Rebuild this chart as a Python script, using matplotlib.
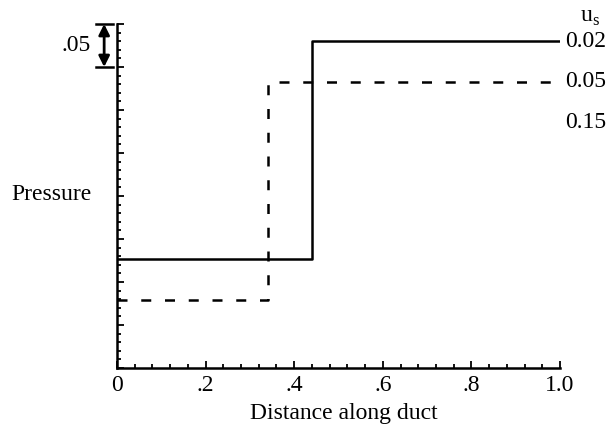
import matplotlib
matplotlib.use("Agg")
import matplotlib.pyplot as plt
import matplotlib.transforms as mtransforms
from matplotlib.ticker import MultipleLocator, FixedFormatter, FixedLocator

plt.rcParams['font.family'] = ['Liberation Serif', 'DejaVu Serif']

# step profiles
x_solid = [0.0, 0.44, 1.0]
p_solid = [0.127, 0.380, 0.380]
x_dash = [0.0, 0.34, 1.0]
p_dash = [0.0785, 0.333, 0.333]

us_labels = ["0.02", "0.05", "0.15"]
us_label_y = [0.380, 0.333, 0.286]

xticks = [0.0, 0.2, 0.4, 0.6, 0.8, 1.0]
xtick_labels = ["0", ".2", ".4", ".6", ".8", "1.0"]

fig = plt.figure(figsize=(6.11, 4.28), dpi=100)
ax = fig.add_axes([117 / 611, 1 - 368 / 428, 443 / 611, 344 / 428])

ax.plot(x_solid, p_solid, drawstyle='steps-post', color='black', lw=1.8)
ax.plot(x_dash, p_dash, drawstyle='steps-post', color='black', lw=1.8,
        dashes=(4.0, 5.5))

ax.set_xlim(0, 1.0)
ax.set_ylim(0, 0.4)

for s in ['top', 'right']:
    ax.spines[s].set_visible(False)
for s in ['left', 'bottom']:
    ax.spines[s].set_linewidth(1.8)

ax.xaxis.set_major_locator(FixedLocator(xticks))
ax.xaxis.set_major_formatter(FixedFormatter(xtick_labels))
ax.xaxis.set_minor_locator(MultipleLocator(0.04))
ax.yaxis.set_major_locator(MultipleLocator(0.05))
ax.yaxis.set_minor_locator(MultipleLocator(0.01))
ax.set_yticklabels([])

ax.tick_params(which='both', direction='in', width=1.3)
ax.tick_params(which='major', length=5)
ax.tick_params(which='minor', length=3)
ax.tick_params(axis='x', labelsize=17, pad=5)

ax.set_xlabel("Distance along duct", fontsize=17)
ax.xaxis.set_label_coords(0.512, -0.103)
fig.text(51 / 611, 1 - 195 / 428, "Pressure", fontsize=17,
         ha='center', va='center')

# scale arrow for .05 at the top left
trans = mtransforms.blended_transform_factory(ax.transAxes, ax.transData)
ax.annotate("", xy=(-0.029, 0.4), xytext=(-0.029, 0.35), xycoords=trans,
            textcoords=trans,
            arrowprops=dict(arrowstyle='<|-|>', color='black', lw=2.0,
                            shrinkA=0, shrinkB=0, mutation_scale=16),
            annotation_clip=False)
for yb in [0.4, 0.35]:
    ax.plot([-0.047, -0.010], [yb, yb], color='black', lw=1.8,
            transform=trans, clip_on=False)
ax.text(-0.092, 0.375, ".05", transform=trans, fontsize=17,
        ha='center', va='center')

# u_s labels on the right
ax.text(1.045, 0.408, r"u$_\mathregular{s}$", transform=trans, fontsize=17,
        ha='left', va='center')
for lab, yv in zip(us_labels, us_label_y):
    ax.text(1.012, yv, lab, transform=trans, fontsize=17,
            ha='left', va='center')

fig.savefig("out.png", dpi=100)
